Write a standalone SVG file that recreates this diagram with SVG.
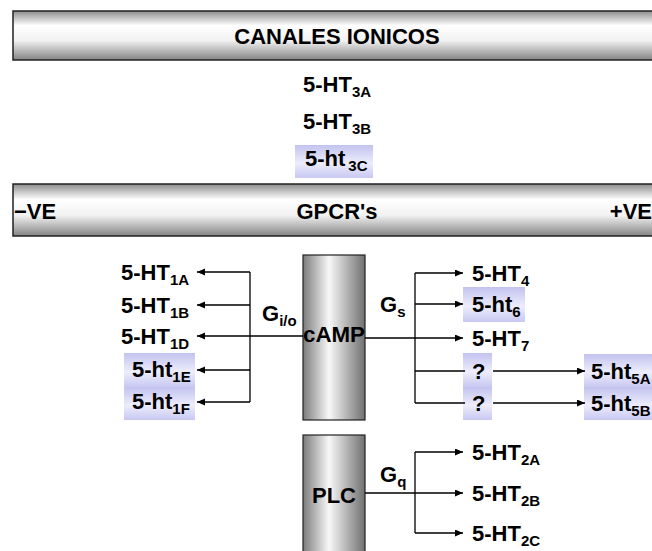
<svg xmlns="http://www.w3.org/2000/svg" width="652" height="551" viewBox="0 0 652 551">
<style>
.lbl{font-family:"Liberation Sans",Arial,sans-serif;font-weight:bold;font-size:22px;fill:#000}
.sub{font-size:15px}
.ttl{font-family:"Liberation Sans",Arial,sans-serif;font-weight:bold;font-size:22px;fill:#000}
.ln{stroke:#000;stroke-width:1.3;fill:none}
.bar{stroke:#222;stroke-width:1.5}
.cyl{stroke:#222;stroke-width:1.2}
</style>
<defs>
<linearGradient id="gBar" x1="0" y1="0" x2="0" y2="1">
<stop offset="0" stop-color="#8e8e8e"/>
<stop offset="0.3" stop-color="#ffffff"/>
<stop offset="0.6" stop-color="#f2f2f2"/>
<stop offset="1" stop-color="#848484"/>
</linearGradient>
<linearGradient id="gCyl" x1="0" y1="0" x2="1" y2="0">
<stop offset="0" stop-color="#7c7c7c"/>
<stop offset="0.42" stop-color="#f8f8f8"/>
<stop offset="1" stop-color="#707070"/>
</linearGradient>
<linearGradient id="gLav" x1="0" y1="0" x2="0" y2="1">
<stop offset="0" stop-color="#c2c2ef"/>
<stop offset="0.55" stop-color="#ededfc"/>
<stop offset="1" stop-color="#c8c8f2"/>
</linearGradient>
<marker id="ah" markerUnits="userSpaceOnUse" markerWidth="9" markerHeight="8" refX="8" refY="3.5" orient="auto">
<path d="M0,0 L8,3.5 L0,7 z" fill="#000"/>
</marker>
</defs>
<rect width="652" height="551" fill="#fff"/>

<g id="canales">
<rect class="bar" x="13" y="11" width="650" height="49" fill="url(#gBar)"/>
<text class="ttl" x="337" y="44" text-anchor="middle">CANALES IONICOS</text>
</g>

<g id="ht3a"><text class="lbl" x="303" y="92">5-HT<tspan class="sub" dy="5">3A</tspan></text></g>
<g id="ht3b"><text class="lbl" x="303" y="129">5-HT<tspan class="sub" dy="5">3B</tspan></text></g>
<g id="ht3c"><rect x="295" y="145" width="78" height="33" fill="url(#gLav)"/><text class="lbl" x="305" y="166">5-ht<tspan class="sub" dx="3" dy="5">3C</tspan></text></g>

<g id="gpcr">
<rect class="bar" x="13" y="184" width="650" height="52" fill="url(#gBar)"/>
<text class="ttl" x="14" y="219">−VE</text>
<text class="ttl" x="337" y="219" text-anchor="middle">GPCR's</text>
<text class="ttl" x="652" y="219" text-anchor="end">+VE</text>
</g>

<g id="camp">
<rect class="cyl" x="303" y="255" width="62" height="165" fill="url(#gCyl)"/>
<text class="lbl" x="334" y="342" text-anchor="middle" textLength="62" lengthAdjust="spacingAndGlyphs">cAMP</text>
</g>
<g id="plc">
<rect class="cyl" x="303" y="435" width="62" height="125" fill="url(#gCyl)"/>
<text class="lbl" x="334" y="503" text-anchor="middle">PLC</text>
</g>

<g id="gio"><text class="lbl" x="262" y="321" font-size="23">G<tspan class="sub" dy="5">i/o</tspan></text></g>
<g id="gs"><text class="lbl" x="380" y="312" font-size="23">G<tspan class="sub" dy="5">s</tspan></text></g>
<g id="gq"><text class="lbl" x="380" y="482" font-size="23">G<tspan class="sub" dy="5">q</tspan></text></g>

<g id="ht1a"><text class="lbl" x="121" y="280">5-HT<tspan class="sub" dy="5">1A</tspan></text></g>
<g id="ht1b"><text class="lbl" x="121" y="313">5-HT<tspan class="sub" dy="5">1B</tspan></text></g>
<g id="ht1d"><text class="lbl" x="121" y="344">5-HT<tspan class="sub" dy="5">1D</tspan></text></g>
<g id="ht1e"><rect x="124" y="353" width="71" height="34" fill="url(#gLav)"/><text class="lbl" x="132" y="377">5-ht<tspan class="sub" dy="5">1E</tspan></text></g>
<g id="ht1f"><rect x="124" y="387" width="71" height="33" fill="url(#gLav)"/><text class="lbl" x="132" y="409">5-ht<tspan class="sub" dy="5">1F</tspan></text></g>

<g id="ht4"><text class="lbl" x="472" y="281">5-HT<tspan class="sub" dy="5">4</tspan></text></g>
<g id="ht6"><rect x="463" y="287" width="62" height="35" fill="url(#gLav)"/><text class="lbl" x="472" y="312">5-ht<tspan class="sub" dy="5">6</tspan></text></g>
<g id="ht7"><text class="lbl" x="472" y="346">5-HT<tspan class="sub" dy="5">7</tspan></text></g>
<g id="q1"><rect x="463" y="353" width="29" height="34" fill="url(#gLav)"/><text class="lbl" x="472" y="379">?</text></g>
<g id="q2"><rect x="463" y="387" width="29" height="33" fill="url(#gLav)"/><text class="lbl" x="472" y="411">?</text></g>
<g id="ht5a"><rect x="584" y="354" width="68" height="33" fill="url(#gLav)"/><text class="lbl" x="591" y="379">5-ht<tspan class="sub" dy="5">5A</tspan></text></g>
<g id="ht5b"><rect x="584" y="387" width="68" height="33" fill="url(#gLav)"/><text class="lbl" x="591" y="411">5-ht<tspan class="sub" dy="5">5B</tspan></text></g>

<g id="ht2a"><text class="lbl" x="472" y="460">5-HT<tspan class="sub" dy="5">2A</tspan></text></g>
<g id="ht2b"><text class="lbl" x="472" y="501">5-HT<tspan class="sub" dy="5">2B</tspan></text></g>
<g id="ht2c"><text class="lbl" x="472" y="541">5-HT<tspan class="sub" dy="5">2C</tspan></text></g>

<g id="connectors">
<path class="ln" d="M250,272 V402"/>
<path class="ln" d="M250,272 H197" marker-end="url(#ah)"/>
<path class="ln" d="M250,305 H197" marker-end="url(#ah)"/>
<path class="ln" d="M303,336 H197" marker-end="url(#ah)"/>
<path class="ln" d="M250,370 H197" marker-end="url(#ah)"/>
<path class="ln" d="M250,402 H197" marker-end="url(#ah)"/>

<path class="ln" d="M415,273 V403"/>
<path class="ln" d="M415,273 H463" marker-end="url(#ah)"/>
<path class="ln" d="M415,304 H463" marker-end="url(#ah)"/>
<path class="ln" d="M365,338 H463" marker-end="url(#ah)"/>
<path class="ln" d="M415,371 H465"/>
<path class="ln" d="M415,403 H465" stroke-width="2"/>
<path class="ln" d="M493,371 H585" marker-end="url(#ah)"/>
<path class="ln" d="M493,403 H585" stroke-width="1.6" marker-end="url(#ah)"/>

<path class="ln" d="M415,452 V533"/>
<path class="ln" d="M415,452 H463" marker-end="url(#ah)"/>
<path class="ln" d="M365,493 H463" marker-end="url(#ah)"/>
<path class="ln" d="M415,533 H463" marker-end="url(#ah)"/>
</g>
</svg>
